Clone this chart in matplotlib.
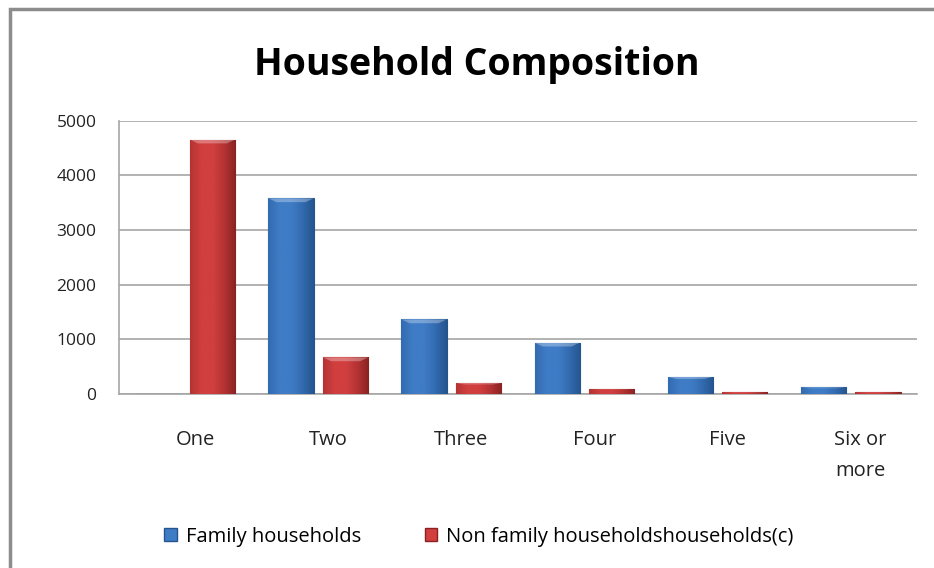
import matplotlib
matplotlib.use("Agg")
import matplotlib.pyplot as plt
import matplotlib.patches as mpatches
import matplotlib.transforms as mtransforms
import numpy as np

categories = ["One", "Two", "Three", "Four", "Five", "Six or\nmore"]
family = [0, 3580, 1365, 940, 315, 120]
non_family = [4655, 670, 200, 100, 35, 30]
series_names = ["Family households", "Non family householdshouseholds(c)"]

blue = "#3f7cc6"
blue_mid = "#336bb0"
blue_dark = "#24558f"
red = "#d13f3f"
red_mid = "#b53333"
red_dark = "#8a2222"

plt.rcParams['font.family'] = ['Open Sans', 'DejaVu Sans']

fig = plt.figure(figsize=(9.34, 5.68), dpi=100)
ax = fig.add_axes([0.127, 0.3063, 0.855, 0.4812])

x = np.arange(len(categories))
w = 0.34
gap = 0.035

def shade_bars(bars, base, mid, dark):
    # fake the Excel bevel: soft horizontal gradient + lighter top strip
    cmap = matplotlib.colors.LinearSegmentedColormap.from_list("g", [mid, base, base, mid, dark])
    grad = np.linspace(0, 1, 64).reshape(1, -1)
    for b in bars:
        h = b.get_height()
        if h <= 0:
            continue
        x0, bw = b.get_x(), b.get_width()
        im = ax.imshow(grad, cmap=cmap, aspect="auto", extent=(x0, x0 + bw, 0, h),
                       zorder=3, interpolation="bicubic")
        im.set_clip_path(b)
        # top bevel
        bev = min(h * 0.12, 70)
        inset = bw * 0.18
        top = mpatches.Polygon([(x0, h), (x0 + bw, h), (x0 + bw - inset, h - bev), (x0 + inset, h - bev)],
                               closed=True, facecolor="white", alpha=0.3, edgecolor="none", zorder=4)
        ax.add_patch(top)

b1 = ax.bar(x - w / 2 - gap, family, w, color=blue, edgecolor=blue_dark, linewidth=0.8,
            zorder=3, label=series_names[0])
b2 = ax.bar(x + w / 2 + gap, non_family, w, color=red, edgecolor=red_dark, linewidth=0.8,
            zorder=3, label=series_names[1])
shade_bars(b1, blue, blue_mid, blue_dark)
shade_bars(b2, red, red_mid, red_dark)

ax.set_xlim(-0.5, len(categories) - 0.5)
ax.set_ylim(0, 5000)
ax.set_yticks([0, 1000, 2000, 3000, 4000, 5000])
ax.yaxis.grid(True, color="#a6a6a6", linewidth=1.2)
ax.set_axisbelow(True)
ax.set_xticks(x)
ax.set_xticklabels(categories, fontsize=14.5, color="#222222", linespacing=1.75)
ax.tick_params(axis="y", length=0, labelsize=12.5, labelcolor="#222222", pad=16)
ax.tick_params(axis="x", length=0, pad=26)
offset = mtransforms.ScaledTranslation(10 / 100, 0, fig.dpi_scale_trans)
for lab in ax.get_xticklabels():
    lab.set_transform(lab.get_transform() + offset)

for s in ["top", "right"]:
    ax.spines[s].set_visible(False)
ax.spines["left"].set_color("#a6a6a6")
ax.spines["bottom"].set_color("#a6a6a6")
ax.spines["left"].set_linewidth(1.2)
ax.spines["bottom"].set_linewidth(1.2)

fig.text(0.51, 0.886, "Household Composition", ha="center", va="center",
         fontsize=27, fontweight="bold", color="black")

handles = [mpatches.Patch(facecolor=blue, edgecolor=blue_dark), mpatches.Patch(facecolor=red, edgecolor=red_dark)]
fig.legend(handles, series_names, loc="center", bbox_to_anchor=(0.513, 0.055), ncol=2, frameon=False,
           fontsize=14.5, handlelength=0.6, handleheight=0.6, handletextpad=0.45, columnspacing=3.2)

# outer chart frame
frame = mpatches.Rectangle((10 / 934, -0.05), 1.1, 1 - 9.5 / 568 + 0.05, transform=fig.transFigure,
                           fill=False, edgecolor="#8c8c8c", linewidth=2.5)
fig.add_artist(frame)

fig.savefig("out.png", dpi=100)
